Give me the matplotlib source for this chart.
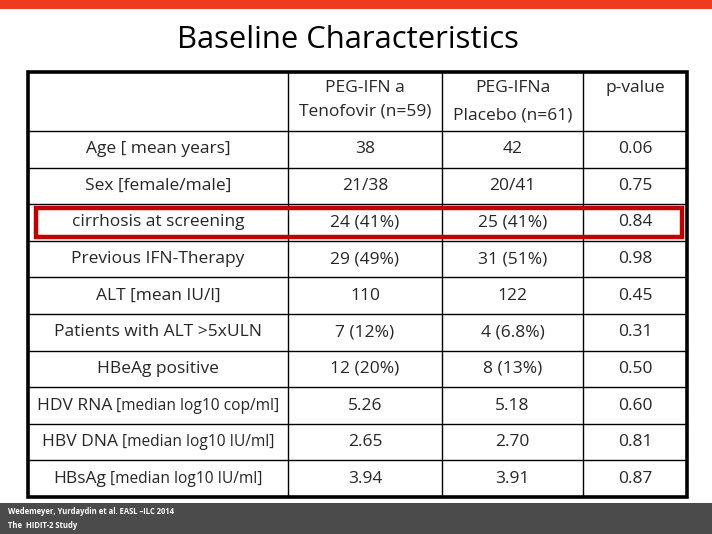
import matplotlib
matplotlib.use('Agg')
from matplotlib import pyplot
from matplotlib import patches

# table content
row_labels = ['Age [ mean years]', 'Sex [female/male]', 'cirrhosis at screening',
              'Previous IFN-Therapy', 'ALT [mean IU/l]', 'Patients with ALT >5xULN',
              'HBeAg positive', 'HDV RNA', 'HBV DNA', 'HBsAg']
row_units = ['', '', '', '', '', '', '', ' [median log10 cop/ml]',
             ' [median log10 IU/ml]', ' [median log10 IU/ml]']
tenofovir = ['38', '21/38', '24 (41%)', '29 (49%)', '110', '7 (12%)',
             '12 (20%)', '5.26', '2.65', '3.94']
placebo = ['42', '20/41', '25 (41%)', '31 (51%)', '122', '4 (6.8%)',
           '8 (13%)', '5.18', '2.70', '3.91']
p_values = ['0.06', '0.75', '0.84', '0.98', '0.45', '0.31', '0.50', '0.60', '0.81', '0.87']
highlight_row = 2

FONT = 'Open Sans'
W, H = 712, 534

fig = pyplot.figure(figsize=(W / 100, H / 100), dpi=100)
ax = fig.add_axes([0, 0, 1, 1])
ax.set_xlim(0, W)
ax.set_ylim(H, 0)
ax.axis('off')

# top red bar and footer band
ax.add_patch(patches.Rectangle((0, 0), W, 9, facecolor='#F03C1E', edgecolor='none'))
ax.add_patch(patches.Rectangle((0, 503), W, H - 503, facecolor='#4B4B4B', edgecolor='none'))
ax.text(8, 512, 'Wedemeyer, Yurdaydin et al. EASL \u2013ILC 2014', fontsize=5.5, color='white',
        fontweight='bold', family=FONT, va='center', ha='left')
ax.text(8, 525, 'The  HIDIT-2 Study', fontsize=5.5, color='white',
        fontweight='bold', family=FONT, va='center', ha='left')

# title
ax.text(348, 40, 'Baseline Characteristics', fontsize=22.3, family=FONT, ha='center', va='center', color='black')

# table geometry
left, right = 28, 687
top, head_bottom, bottom = 72, 131, 497
col_x = [left, 288, 442, 583, right]
n = len(row_labels)
row_h = (bottom - head_bottom) / n

for x in col_x[1:-1]:
    ax.plot([x, x], [top, bottom], color='black', lw=1.0, zorder=2)
ys = [head_bottom + i * row_h for i in range(n)]
for y in ys:
    ax.plot([left, right], [y, y], color='black', lw=1.0, zorder=2)
ax.add_patch(patches.Rectangle((left, top), right - left, bottom - top, fill=False,
                               edgecolor='black', lw=2.6, zorder=3))

# header
fs = 12.5
tc = '#262626'
ax.text((col_x[1] + col_x[2]) / 2, 88, 'PEG-IFN a', fontsize=fs, family=FONT, ha='center', va='center', color=tc)
ax.text((col_x[1] + col_x[2]) / 2, 111, 'Tenofovir (n=59)', fontsize=fs, family=FONT, ha='center', va='center', color=tc)
ax.text((col_x[2] + col_x[3]) / 2, 88, 'PEG-IFNa', fontsize=fs, family=FONT, ha='center', va='center', color=tc)
ax.text((col_x[2] + col_x[3]) / 2, 115, 'Placebo (n=61)', fontsize=fs, family=FONT, ha='center', va='center', color=tc)
ax.text((col_x[3] + col_x[4]) / 2, 88, 'p-value', fontsize=fs, family=FONT, ha='center', va='center', color=tc)

# rows
fig.canvas.draw()
r = fig.canvas.get_renderer()
for i in range(n):
    yc = head_bottom + (i + 0.5) * row_h
    cx = (col_x[0] + col_x[1]) / 2
    if row_units[i]:
        t1 = ax.text(0, yc, row_labels[i], fontsize=fs, family=FONT, va='center', ha='left', color=tc)
        t2 = ax.text(0, yc, row_units[i], fontsize=fs - 1.3, family=FONT, va='center', ha='left', color=tc)
        w1 = t1.get_window_extent(r).width
        w2 = t2.get_window_extent(r).width
        x0 = cx - (w1 + w2) / 2
        t1.set_x(x0)
        t2.set_x(x0 + w1)
    else:
        ax.text(cx, yc, row_labels[i], fontsize=fs, family=FONT, va='center', ha='center', color=tc)
    ax.text((col_x[1] + col_x[2]) / 2, yc, tenofovir[i], fontsize=fs, family=FONT, va='center', ha='center', color=tc)
    ax.text((col_x[2] + col_x[3]) / 2, yc, placebo[i], fontsize=fs, family=FONT, va='center', ha='center', color=tc)
    ax.text((col_x[3] + col_x[4]) / 2, yc, p_values[i], fontsize=fs, family=FONT, va='center', ha='center', color=tc)

# red highlight box
hy = head_bottom + highlight_row * row_h
ax.add_patch(patches.Rectangle((36, hy + 4), 682 - 36, row_h - 8, fill=False,
                               edgecolor='#C00000', lw=3.2, zorder=4))

pyplot.savefig('out.png', dpi=100)
